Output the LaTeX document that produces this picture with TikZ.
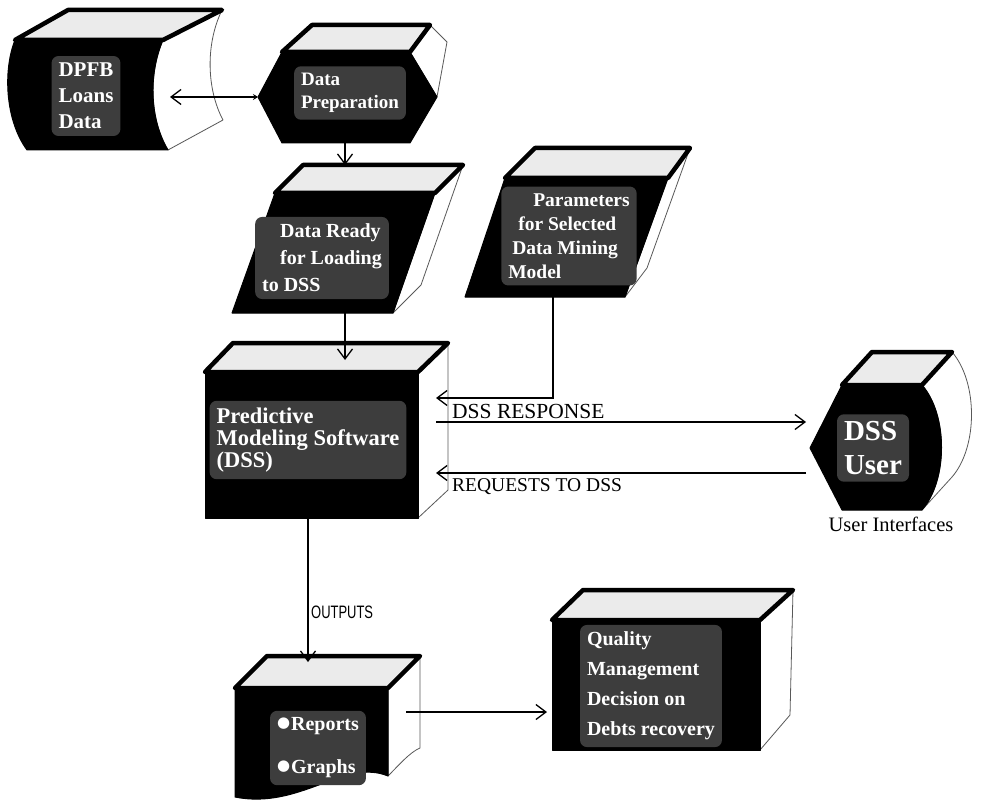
\documentclass[tikz,border=0pt]{standalone}
\usepackage{fontspec}
\setmainfont{Liberation Serif}
\newfontfamily\narrowsans[FakeStretch=0.72]{Liberation Sans}
\newfontfamily\djv{DejaVu Sans}
\usetikzlibrary{arrows.meta}
\newcommand{\wbul}{\raisebox{3pt}{\djv\fontsize{15}{15}\selectfont ●}\hspace{1pt}}
\begin{document}
\begin{tikzpicture}[x=1pt,y=-1pt,
  frontf/.style={fill=black, draw=black, line width=1pt, line join=round},
  topf/.style={fill=black!8, draw=black, line width=4.5pt, line join=round},
  sidef/.style={fill=white, draw=black!65, line width=0.8pt, line join=round},
  lbl/.style={text=white, align=left, inner sep=7pt, fill=black!76, rounded corners=7pt},
  conn/.style={draw=black, line width=1.3pt, -{Straight Barb[length=10pt,width=15pt]}},
  plainlbl/.style={inner sep=0pt, font=\fontsize{18}{18}\selectfont}
]
\useasboundingbox (0,0) rectangle (984,802);
\fill[white] (0,0) rectangle (984,802);

% ---------- DPFB Loans Data (stored data) ----------
\path[sidef] (163,40) -- (222,10) .. controls (205,45) and (207,90) .. (223,120) -- (168,150) .. controls (150,120) and (148,75) .. (163,40) -- cycle;
\path[topf] (15,40) -- (68,10) -- (222,10) -- (163,40) -- cycle;
\path[frontf] (15,40) -- (163,40) .. controls (148,75) and (150,120) .. (168,150) -- (27,150) .. controls (5,120) and (3,70) .. (15,40) -- cycle;
\node[lbl, font=\bfseries\fontsize{21}{26}\selectfont] (dpfb) at (86,96) {DPFB\\Loans\\Data};

% ---------- Data Preparation (hexagon) ----------
\path[sidef] (410,52) -- (430,25) -- (447,42) -- (437,97) -- cycle;
\path[topf] (282,52) -- (312,25) -- (430,25) -- (410,52) -- cycle;
\path[frontf] (258,97) -- (282,52) -- (410,52) -- (437,97) -- (410,143) -- (282,143) -- cycle;
\node[lbl, font=\bfseries\fontsize{19}{23}\selectfont] (prep) at (350,93) {Data\\Preparation};

% ---------- Data Ready ----------
\path[sidef] (435,193) -- (463,165) -- (421,285) -- (393,313) -- cycle;
\path[topf] (275,193) -- (303,165) -- (463,165) -- (435,193) -- cycle;
\path[frontf] (275,193) -- (435,193) -- (393,313) -- (232,313) -- cycle;
\node[lbl, font=\bfseries\fontsize{20}{27}\selectfont] (ready) at (322,258) {\hspace{18pt}Data Ready\\\hspace{18pt}for Loading\\to DSS};

% ---------- Parameters ----------
\path[sidef] (668,178) -- (690,148) -- (647,268) -- (625,297) -- cycle;
\path[topf] (505,178) -- (535,148) -- (690,148) -- (668,178) -- cycle;
\path[frontf] (505,178) -- (668,178) -- (625,297) -- (465,297) -- cycle;
\node[lbl, font=\bfseries\fontsize{19.5}{24}\selectfont] (param) at (569,236) {\hspace{25pt}Parameters\\\hspace{10pt}for Selected\\\hspace{4pt}Data Mining\\Model};

% ---------- Predictive Modeling Software ----------
\path[sidef] (418,372) -- (448,343) -- (448,490) -- (418,518) -- cycle;
\path[topf] (205,372) -- (233,343) -- (448,343) -- (418,372) -- cycle;
\path[frontf] (205,372) rectangle (418,518);
\node[lbl, font=\bfseries\fontsize{22.5}{22}\selectfont] (pred) at (308,440) {Predictive\\Modeling Software\\(DSS)};

% ---------- DSS User (display) ----------
\path[sidef] (922,385) -- (952,352) .. controls (978,382) and (978,447) .. (952,477) -- (922,510) .. controls (948,480) and (948,415) .. (922,385) -- cycle;
\path[topf] (842,385) -- (872,352) -- (952,352) -- (922,385) -- cycle;
\path[frontf] (810,448) -- (842,385) -- (922,385) .. controls (948,415) and (948,480) .. (922,510) -- (842,510) -- cycle;
\node[lbl, font=\bfseries\fontsize{29}{34}\selectfont] (user) at (873,448) {DSS\\User};
\node[plainlbl, font=\fontsize{20.5}{20.5}\selectfont] (ui) at (891,524) {User Interfaces};

% ---------- Reports / Graphs (document) ----------
\path[sidef] (388,688) -- (420,656) -- (420,748) .. controls (410,752) and (398,766) .. (388,776) -- cycle;
\path[topf] (235,688) -- (267,656) -- (420,656) -- (388,688) -- cycle;
\path[frontf] (235,688) -- (388,688) -- (388,776) .. controls (345,758) and (300,810) .. (235,797) -- cycle;
\node[lbl, font=\bfseries\fontsize{20}{43}\selectfont] (rep) at (318,748) {\wbul Reports\\\wbul Graphs};

% ---------- Quality Management Decision ----------
\path[sidef] (760,620) -- (793,590) -- (790,715) -- (760,750) -- cycle;
\path[topf] (552,620) -- (583,590) -- (793,590) -- (760,620) -- cycle;
\path[frontf] (552,620) rectangle (760,750);
\node[lbl, font=\bfseries\fontsize{20}{30}\selectfont] (qual) at (651,686) {Quality\\Management\\Decision on\\Debts recovery};

% ---------- connection points ----------
\coordinate (dpfbR) at (170,97);
\coordinate (prepL) at (258,97);
\coordinate (prepB) at (345,143);
\coordinate (readyT) at (345,165);
\coordinate (readyB) at (345,313);
\coordinate (predT) at (345,360);
\coordinate (paramB) at (553,297);
\coordinate (bend) at (553,398);
\coordinate (predR1) at (436,398);
\coordinate (predR2) at (436,422);
\coordinate (predR3) at (436,473);
\coordinate (userL1) at (806,422);
\coordinate (userL2) at (806,473);
\coordinate (predB) at (308,518);
\coordinate (repT) at (308,662);
\coordinate (repR) at (406,712);
\coordinate (qualL) at (547,712);

% ---------- connectors ----------
\draw[conn, {Stealth[length=5pt,width=6pt]}-{Straight Barb[length=10pt,width=15pt]}] (prepL) -- (dpfbR);
\draw[conn] (prepB) -- (readyT);
\draw[conn] (readyB) -- (predT);
\draw[conn] (paramB) -- (bend) -- (predR1);
\draw[conn] (predR2) -- (userL1);
\draw[conn] (userL2) -- (predR3);
\draw[conn] (predB) -- (repT);
\draw[conn] (repR) -- (qualL);

% ---------- labels ----------
\node[plainlbl, anchor=south west, font=\fontsize{21.5}{21.5}\selectfont] (resp) at (452,419) {DSS RESPONSE};
\node[plainlbl, anchor=north west, font=\fontsize{19.5}{19.5}\selectfont] (req) at (452,478) {REQUESTS TO DSS};
\node[plainlbl, anchor=west, font=\narrowsans\fontsize{18}{18}\selectfont] (outp) at (311,612) {OUTPUTS};
\end{tikzpicture}
\end{document}
